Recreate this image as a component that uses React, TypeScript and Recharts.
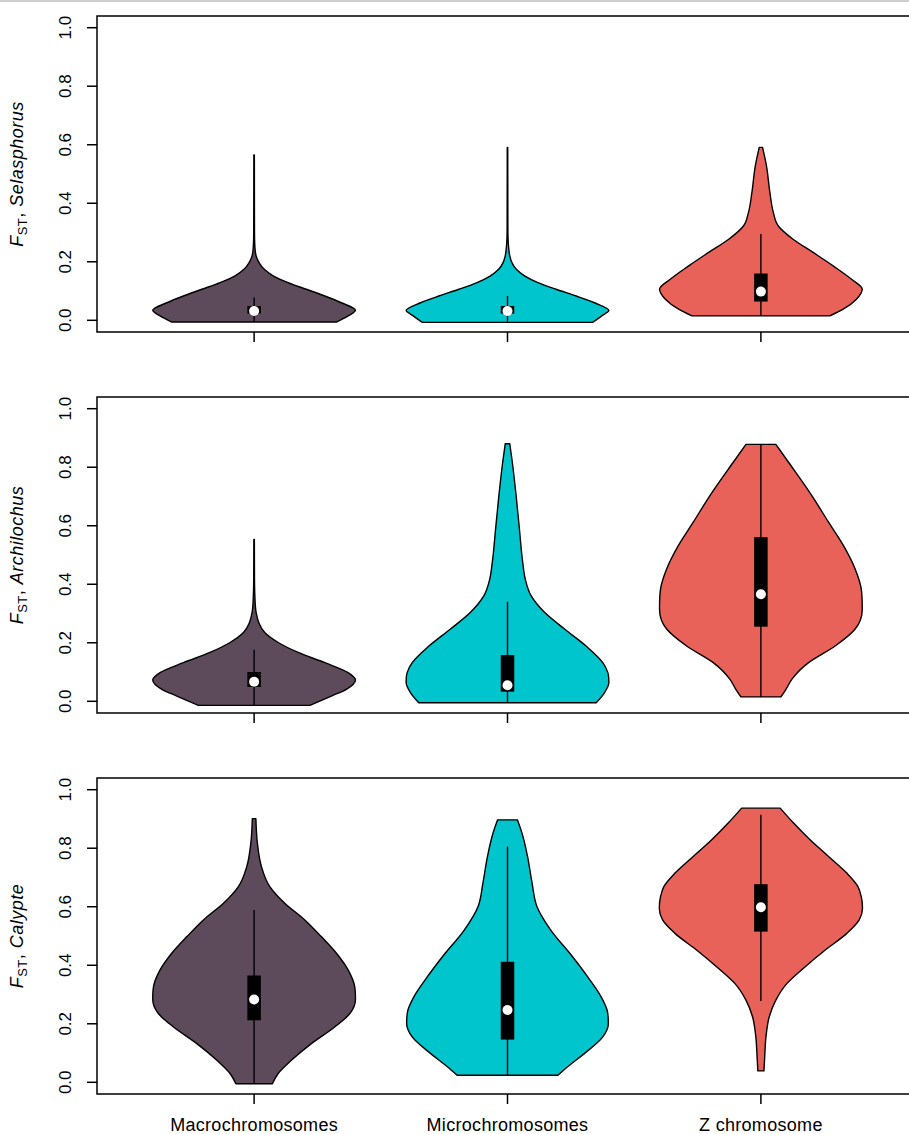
import { ComposedChart, XAxis, YAxis, Scatter, ReferenceArea } from "recharts";

// [FST level, half width in x-axis units], listed bottom to top
type Outline = [number, number][];
// min, q1, median, q3, max
type BoxStats = [number, number, number, number, number];

const GROUPS = ["Macrochromosomes", "Microchromosomes", "Z chromosome"];
const GROUP_POS = [1, 2, 3];
const GROUP_COLORS = ["#5D4A5A", "#00C5CD", "#E8625A"];
const FST_TICKS = [0, 0.2, 0.4, 0.6, 0.8, 1.0];

const selasphorusMacro: Outline = [
  [-0.006, 0.325], [0.015, 0.371], [0.034, 0.4], [0.06, 0.344], [0.083, 0.279],
  [0.106, 0.206], [0.129, 0.134], [0.152, 0.075], [0.175, 0.039], [0.198, 0.019],
  [0.22, 0.008], [0.254, 0.003], [0.312, 0.0015], [0.565, 0.001],
];
const selasphorusMicro: Outline = [
  [-0.007, 0.336], [0.015, 0.372], [0.034, 0.4], [0.06, 0.343], [0.083, 0.271],
  [0.106, 0.192], [0.129, 0.12], [0.152, 0.067], [0.175, 0.034], [0.198, 0.017],
  [0.22, 0.009], [0.254, 0.004], [0.312, 0.0015], [0.591, 0.001],
];
const selasphorusZ: Outline = [
  [0.015, 0.272], [0.038, 0.325], [0.072, 0.377], [0.106, 0.4], [0.14, 0.358],
  [0.186, 0.285], [0.232, 0.206], [0.277, 0.127], [0.323, 0.068], [0.369, 0.049],
  [0.437, 0.0355], [0.528, 0.022], [0.591, 0.0066],
];
const selasphorusBoxes: BoxStats[] = [
  [-0.006, 0.023, 0.032, 0.049, 0.078],
  [-0.007, 0.023, 0.032, 0.049, 0.083],
  [0.015, 0.064, 0.098, 0.16, 0.295],
];

const archilochusMacro: Outline = [
  [-0.014, 0.22], [0.018, 0.305], [0.041, 0.364], [0.073, 0.4], [0.098, 0.371],
  [0.132, 0.279], [0.167, 0.174], [0.201, 0.095], [0.235, 0.042], [0.27, 0.018],
  [0.304, 0.008], [0.361, 0.003], [0.418, 0.0015], [0.553, 0.001],
];
const archilochusMicro: Outline = [
  [-0.005, 0.35], [0.03, 0.383], [0.064, 0.4], [0.098, 0.396], [0.132, 0.376],
  [0.189, 0.31], [0.247, 0.225], [0.304, 0.146], [0.361, 0.093], [0.418, 0.07],
  [0.475, 0.06], [0.589, 0.047], [0.703, 0.034], [0.817, 0.019], [0.88, 0.009],
];
const archilochusZ: Outline = [
  [0.015, 0.079], [0.041, 0.099], [0.075, 0.122], [0.132, 0.188], [0.189, 0.293],
  [0.247, 0.372], [0.315, 0.4], [0.384, 0.396], [0.452, 0.372], [0.532, 0.326],
  [0.612, 0.267], [0.703, 0.201], [0.817, 0.109], [0.878, 0.059],
];
const archilochusBoxes: BoxStats[] = [
  [-0.014, 0.049, 0.067, 0.1, 0.176],
  [-0.005, 0.033, 0.055, 0.158, 0.34],
  [0.015, 0.255, 0.366, 0.561, 0.878],
];

const calypteMacro: Outline = [
  [-0.005, 0.072], [0.03, 0.095], [0.075, 0.147], [0.132, 0.226], [0.189, 0.318],
  [0.235, 0.378], [0.283, 0.4], [0.327, 0.397], [0.384, 0.371], [0.441, 0.325],
  [0.498, 0.265], [0.555, 0.2], [0.612, 0.121], [0.669, 0.062], [0.737, 0.029],
  [0.817, 0.013], [0.901, 0.007],
];
const calypteMicro: Outline = [
  [0.024, 0.199], [0.052, 0.236], [0.098, 0.303], [0.155, 0.376], [0.201, 0.398],
  [0.247, 0.393], [0.293, 0.369], [0.361, 0.316], [0.43, 0.256], [0.521, 0.17],
  [0.601, 0.116], [0.681, 0.097], [0.772, 0.079], [0.852, 0.057], [0.897, 0.039],
];
const calypteZ: Outline = [
  [0.039, 0.012], [0.087, 0.015], [0.155, 0.02], [0.224, 0.033], [0.281, 0.059],
  [0.338, 0.103], [0.395, 0.175], [0.452, 0.254], [0.509, 0.339], [0.555, 0.388],
  [0.595, 0.401], [0.635, 0.396], [0.669, 0.383], [0.715, 0.339], [0.772, 0.267],
  [0.829, 0.194], [0.886, 0.129], [0.937, 0.076],
];
const calypteBoxes: BoxStats[] = [
  [-0.005, 0.212, 0.283, 0.365, 0.589],
  [0.024, 0.146, 0.247, 0.412, 0.806],
  [0.278, 0.515, 0.598, 0.677, 0.914],
];

const FONT = "'Liberation Sans', Arial, Helvetica, sans-serif";

type Pt = { x: number; y: number };

// smooth cubic through points ordered along y (x as a function of y),
// tangents flattened at local extremes so the outline never bulges past them
function sideCurve(pts: Pt[]): string {
  const n = pts.length;
  if (n < 2) return "";
  if (n === 2) return ` L${pts[1].x},${pts[1].y}`;
  const s: number[] = [];
  for (let i = 0; i < n - 1; i++) {
    s.push((pts[i + 1].x - pts[i].x) / (pts[i + 1].y - pts[i].y));
  }
  const t: number[] = new Array(n).fill(0);
  for (let i = 1; i < n - 1; i++) {
    if (s[i - 1] * s[i] <= 0) continue;
    const h0 = pts[i].y - pts[i - 1].y;
    const h1 = pts[i + 1].y - pts[i].y;
    const p = (s[i - 1] * h1 + s[i] * h0) / (h0 + h1);
    t[i] = Math.sign(p) * Math.min(Math.abs(p), 3 * Math.min(Math.abs(s[i - 1]), Math.abs(s[i])));
  }
  t[0] = (3 * s[0] - t[1]) / 2;
  t[n - 1] = (3 * s[n - 2] - t[n - 2]) / 2;
  let d = "";
  for (let i = 0; i < n - 1; i++) {
    const dy = (pts[i + 1].y - pts[i].y) / 3;
    d += ` C${pts[i].x + dy * t[i]},${pts[i].y + dy} ${pts[i + 1].x - dy * t[i + 1]},${pts[i + 1].y - dy} ${pts[i + 1].x},${pts[i + 1].y}`;
  }
  return d;
}

function violinPoints(outline: Outline, pos: number) {
  const right = outline.map(([f, w]) => ({ x: pos + w, y: f }));
  const left = [...outline].reverse().map(([f, w]) => ({ x: pos - w, y: f }));
  return [...right, ...left];
}

function ViolinShape({ points, fill }: { points: Pt[]; fill: string }) {
  const half = points.length / 2;
  const right = points.slice(0, half);
  const left = points.slice(half);
  const d =
    `M${right[0].x},${right[0].y}` +
    sideCurve(right) +
    ` L${left[0].x},${left[0].y}` +
    sideCurve(left) +
    " Z";
  return <path d={d} fill={fill} stroke="#000" strokeWidth={1.4} strokeLinejoin="round" />;
}

function BoxShape({ points }: { points: Pt[] }) {
  const [lo, q1, q3, hi] = points;
  return (
    <g>
      <line x1={lo.x} y1={lo.y} x2={hi.x} y2={hi.y} stroke="#000" strokeWidth={1.4} />
      <rect x={q1.x - 6.75} y={q3.y} width={13.5} height={q1.y - q3.y} fill="#000" />
    </g>
  );
}

const NoDot = () => <g />;

function FstTick(props: any) {
  const { x, y, payload } = props;
  const bx = x - 14;
  return (
    <text
      x={bx}
      y={y}
      transform={`rotate(-90 ${bx} ${y})`}
      textAnchor="middle"
      fontSize={17}
      fontFamily={FONT}
      fill="#000"
    >
      {Number(payload.value).toFixed(1)}
    </text>
  );
}

function GroupTick(props: any) {
  const { x, y, payload } = props;
  return (
    <text
      x={x}
      y={y}
      dy="0.71em"
      textAnchor="middle"
      fontSize={18}
      letterSpacing={0.3}
      fontFamily={FONT}
      fill="#000"
    >
      {GROUPS[GROUP_POS.indexOf(payload.value)]}
    </text>
  );
}

function genusLabel(genus: string) {
  return (props: any) => {
    const vb = props.viewBox ?? { x: 0, y: 16, width: 97, height: 316 };
    const cx = vb.x + 23;
    const cy = vb.y + vb.height / 2;
    return (
      <text
        x={cx}
        y={cy}
        transform={`rotate(-90 ${cx} ${cy})`}
        textAnchor="middle"
        fontSize={18}
        letterSpacing={0.5}
        fontFamily={FONT}
        fill="#000"
      >
        <tspan fontStyle="italic">F</tspan>
        <tspan fontSize={13} dy={4}>ST</tspan>
        <tspan dy={-4}>, </tspan>
        <tspan fontStyle="italic">{genus}</tspan>
      </text>
    );
  };
}

interface PanelProps {
  genus: string;
  outlines: Outline[];
  boxes: BoxStats[];
  showGroups: boolean;
  height: number;
}

function ViolinPanel({ genus, outlines, boxes, showGroups, height }: PanelProps) {
  return (
    <ComposedChart width={930} height={height} margin={{ top: 16, right: 12, bottom: 0, left: 0 }}>
      <XAxis
        type="number"
        dataKey="x"
        domain={[0.38, 3.62]}
        allowDataOverflow
        ticks={GROUP_POS}
        interval={0}
        height={height - 332}
        axisLine={false}
        tickSize={10}
        tickMargin={14}
        tickLine={{ stroke: "#000", strokeWidth: 1.5 }}
        tick={showGroups ? <GroupTick /> : <NoDot />}
      />
      <YAxis
        type="number"
        dataKey="y"
        domain={[-0.04, 1.04]}
        allowDataOverflow
        ticks={FST_TICKS}
        interval={0}
        width={97}
        axisLine={false}
        tickSize={10}
        tickMargin={2}
        tickLine={{ stroke: "#000", strokeWidth: 1.5 }}
        tick={<FstTick />}
        label={{ content: genusLabel(genus) }}
      />
      <ReferenceArea
        x1={0.38}
        x2={3.62}
        y1={-0.04}
        y2={1.04}
        fill="none"
        fillOpacity={0}
        stroke="#000"
        strokeWidth={1.5}
        ifOverflow="visible"
      />
      {outlines.map((outline, i) => (
        <Scatter
          key={`violin-${i}`}
          data={violinPoints(outline, GROUP_POS[i])}
          shape={<NoDot />}
          line={(p: any) => <ViolinShape points={p.points} fill={GROUP_COLORS[i]} />}
          isAnimationActive={false}
        />
      ))}
      {boxes.map((b, i) => (
        <Scatter
          key={`box-${i}`}
          data={[b[0], b[1], b[3], b[4]].map((v) => ({ x: GROUP_POS[i], y: v }))}
          shape={<NoDot />}
          line={(p: any) => <BoxShape points={p.points} />}
          isAnimationActive={false}
        />
      ))}
      {boxes.map((b, i) => (
        <Scatter
          key={`median-${i}`}
          data={[{ x: GROUP_POS[i], y: b[2] }]}
          shape={(p: any) => <circle cx={p.cx} cy={p.cy} r={5} fill="#fff" />}
          isAnimationActive={false}
        />
      ))}
    </ComposedChart>
  );
}

export default function App() {
  return (
    <div
      style={{
        position: "absolute",
        left: 0,
        top: 0,
        width: 909,
        height: 1134,
        overflow: "hidden",
        background: "#fff",
        fontFamily: FONT,
      }}
    >
      <div style={{ position: "absolute", left: 0, top: 0, width: 909, height: 2, background: "#cfcfcf" }} />
      <ViolinPanel
        genus="Selasphorus"
        outlines={[selasphorusMacro, selasphorusMicro, selasphorusZ]}
        boxes={selasphorusBoxes}
        showGroups={false}
        height={381}
      />
      <ViolinPanel
        genus="Archilochus"
        outlines={[archilochusMacro, archilochusMicro, archilochusZ]}
        boxes={archilochusBoxes}
        showGroups={false}
        height={381}
      />
      <ViolinPanel
        genus="Calypte"
        outlines={[calypteMacro, calypteMicro, calypteZ]}
        boxes={calypteBoxes}
        showGroups
        height={372}
      />
    </div>
  );
}
